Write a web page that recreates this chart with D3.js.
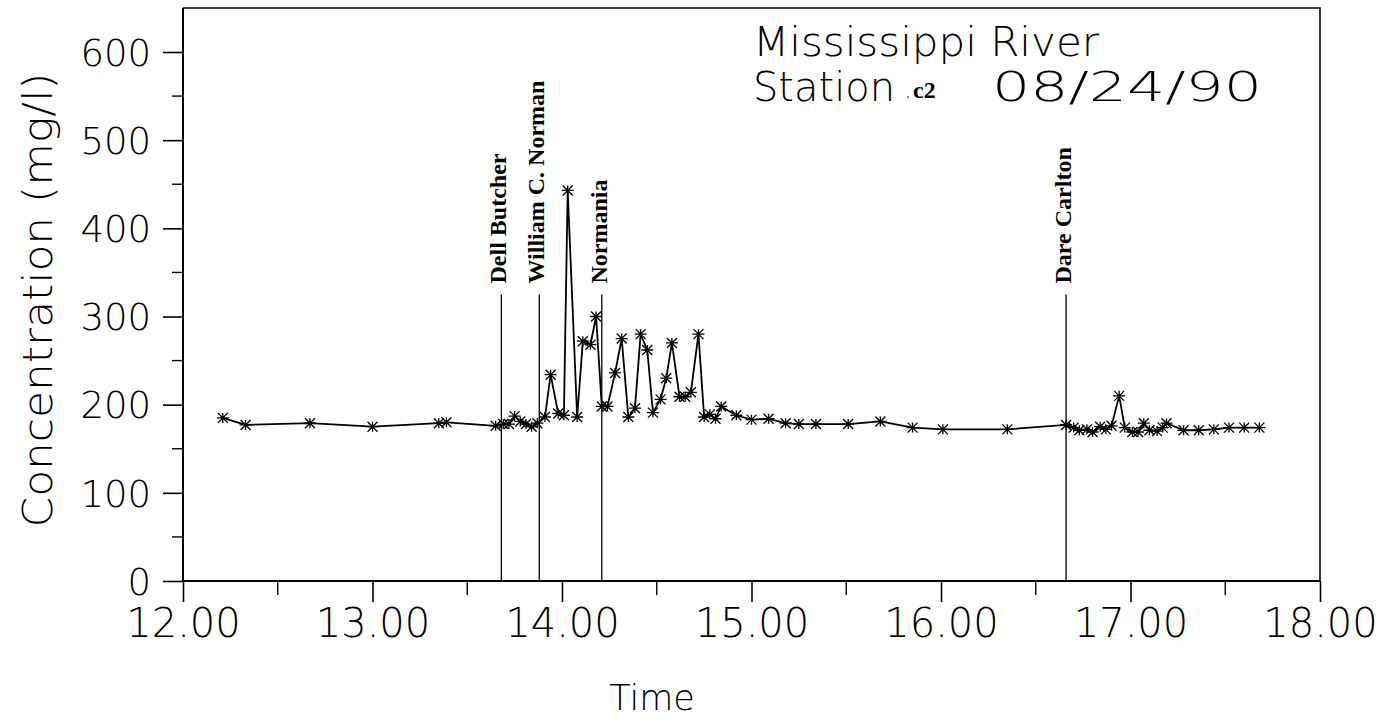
<!DOCTYPE html>
<html>
<head>
<meta charset="utf-8">
<script src="https://cdn.jsdelivr.net/npm/d3@7"></script>
<style>
  html, body { margin: 0; padding: 0; background: #fff; }
  svg { display: block; }
</style>
</head>
<body>
<svg id="chart" width="1381" height="725"></svg>
<script>
// ---- data ----
const times = [12.21,12.33,12.67,13.00,13.35,13.39,13.65,13.69,13.72,13.75,13.78,13.81,13.84,13.87,13.91,13.94,13.98,14.01,14.03,14.08,14.11,14.15,14.18,14.21,14.24,14.28,14.315,14.35,14.385,14.415,14.45,14.48,14.52,14.55,14.58,14.62,14.65,14.68,14.72,14.75,14.78,14.81,14.84,14.92,15.00,15.09,15.18,15.25,15.34,15.51,15.68,15.85,16.01,16.35,16.66,16.70,16.73,16.77,16.80,16.84,16.87,16.90,16.94,16.97,17.01,17.04,17.07,17.10,17.14,17.17,17.19,17.28,17.36,17.44,17.52,17.60,17.68];
const concentrations = [185,177,179,175,179,180,176,178,178,187,181,178,175,179,186,234,190,188,443,186,272,268,300,198,198,236,275,186,196,280,262,191,206,230,270,209,209,214,280,186,189,184,198,188,183,184,179,178,178,178,181,174,172,172,177,174,171,172,169,175,172,176,210,174,169,169,179,171,170,174,179,171,171,172,174,174,174];
const eventNames = ["Dell Butcher","William C. Norman","Normania","Dare Carlton"];
const eventTimes = [13.68,13.88,14.21,16.66];
const eventTop = 325;
const xTicks = [12,13,14,15,16,17,18];
const xTickLabels = ["12.00","13.00","14.00","15.00","16.00","17.00","18.00"];
const yTicks = [0,100,200,300,400,500,600];
const titleLine1 = "Mississippi River";
const titleStation = "Station";
const titleCode = "c2";
const titleDate = "08/24/90";
const xTitle = "Time";
const yTitle = "Concentration  (mg/l)";

// ---- layout ----
const svg = d3.select("#chart");
const X0 = 183, X1 = 1320, Y0 = 581, YTOP = 8;
const x = d3.scaleLinear().domain([12, 18]).range([X0, X1]);
const y = d3.scaleLinear().domain([0, 600]).range([Y0, 52]);
const light = "'DejaVu Sans', sans-serif";

// frame top & right
svg.append("path")
  .attr("d", `M${X0},${YTOP}H${X1}V${Y0}`)
  .attr("fill", "none").attr("stroke", "#000").attr("stroke-width", 1.6);

// y axis
const yAxis = d3.axisLeft(y).tickValues(yTicks).tickSize(20).tickSizeOuter(0).tickPadding(12).tickFormat(d3.format("d"));
const gy = svg.append("g").attr("transform", `translate(${X0},0)`).call(yAxis);
gy.select(".domain").remove();
gy.append("line").attr("x1", 0).attr("x2", 0).attr("y1", YTOP).attr("y2", Y0).attr("stroke", "#000").attr("stroke-width", 2);
gy.selectAll(".tick line").attr("stroke-width", 1.6);
gy.selectAll(".tick text").attr("font-family", light).attr("font-weight", 200).attr("font-size", 37).attr("fill", "#000").attr("dy", "0.36em");
// minor y ticks
const yMinor = d3.range(50, 600, 100);
svg.append("g").selectAll("line").data(yMinor).join("line")
  .attr("x1", X0 - 11).attr("x2", X0).attr("y1", d => y(d)).attr("y2", d => y(d))
  .attr("stroke", "#000").attr("stroke-width", 1.4);

// x axis
const xAxis = d3.axisBottom(x).tickValues(xTicks).tickSize(21).tickSizeOuter(0).tickPadding(6).tickFormat((d, i) => xTickLabels[i]);
const gx = svg.append("g").attr("transform", `translate(0,${Y0})`).call(xAxis);
gx.select(".domain").remove();
gx.append("line").attr("x1", X0).attr("x2", X1).attr("y1", 0).attr("y2", 0).attr("stroke", "#000").attr("stroke-width", 2.2);
gx.selectAll(".tick line").attr("stroke-width", 1.6);
gx.selectAll(".tick text").attr("font-family", light).attr("font-weight", 200).attr("font-size", 40).attr("fill", "#000").attr("dy", "0.72em");
const xMinor = d3.range(12.5, 18, 1);
svg.append("g").selectAll("line").data(xMinor).join("line")
  .attr("x1", d => x(d)).attr("x2", d => x(d)).attr("y1", Y0).attr("y2", Y0 + 14)
  .attr("stroke", "#000").attr("stroke-width", 1.4);

// axis titles
svg.append("text").attr("x", 652).attr("y", 710).attr("text-anchor", "middle")
  .attr("font-family", light).attr("font-weight", 200).attr("font-size", 35).text(xTitle);
svg.append("text").attr("transform", "translate(52,300) rotate(-90)").attr("text-anchor", "middle")
  .attr("font-family", light).attr("font-weight", 200).attr("font-size", 40)
  .attr("textLength", 455).attr("lengthAdjust", "spacingAndGlyphs").text(yTitle);

// title block
svg.append("text").attr("x", 753).attr("y", 56).attr("font-family", light).attr("font-weight", 200)
  .attr("font-size", 40).attr("textLength", 346).attr("lengthAdjust", "spacingAndGlyphs").text(titleLine1);
svg.append("text").attr("x", 753).attr("y", 101).attr("font-family", light).attr("font-weight", 200)
  .attr("font-size", 40).attr("textLength", 142).attr("lengthAdjust", "spacingAndGlyphs").text(titleStation);
svg.append("circle").attr("cx", 908).attr("cy", 97).attr("r", 1).attr("fill", "#666");
svg.append("text").attr("x", 913).attr("y", 98).attr("font-family", "'Liberation Serif', serif").attr("font-weight", "bold")
  .attr("font-size", 24).text(titleCode);
svg.append("text").attr("x", 992).attr("y", 101).attr("font-family", light).attr("font-weight", 200)
  .attr("font-size", 40).attr("textLength", 270).attr("lengthAdjust", "spacingAndGlyphs").text(titleDate);

// event vertical lines + labels
const ev = svg.append("g");
ev.selectAll("line").data(eventTimes).join("line")
  .attr("x1", d => x(d)).attr("x2", d => x(d)).attr("y1", y(eventTop)).attr("y2", Y0)
  .attr("stroke", "#000").attr("stroke-width", 1.3);
ev.selectAll("text").data(eventNames).join("text")
  .attr("transform", (d, i) => `translate(${x(eventTimes[i]) + 5},${y(eventTop) - 11}) rotate(-90)`)
  .attr("font-family", "'Liberation Serif', serif").attr("font-weight", "bold").attr("font-size", 24)
  .text(d => d);

// data line
const pts = times.map((t, i) => [t, concentrations[i]]);
svg.append("path").datum(pts)
  .attr("d", d3.line().x(d => x(d[0])).y(d => y(d[1])))
  .attr("fill", "none").attr("stroke", "#000").attr("stroke-width", 1.8).attr("stroke-linejoin", "round");

// asterisk markers
const r = 5;
const star = `M${-r},${-r}L${r},${r}M${-r},${r}L${r},${-r}M${-r - 1},0L${r + 1},0M0,${-r}L0,${r}`;
svg.append("g").selectAll("path").data(pts).join("path")
  .attr("transform", d => `translate(${x(d[0])},${y(d[1])})`)
  .attr("d", star).attr("stroke", "#000").attr("stroke-width", 1.3).attr("fill", "none");
</script>
</body>
</html>
